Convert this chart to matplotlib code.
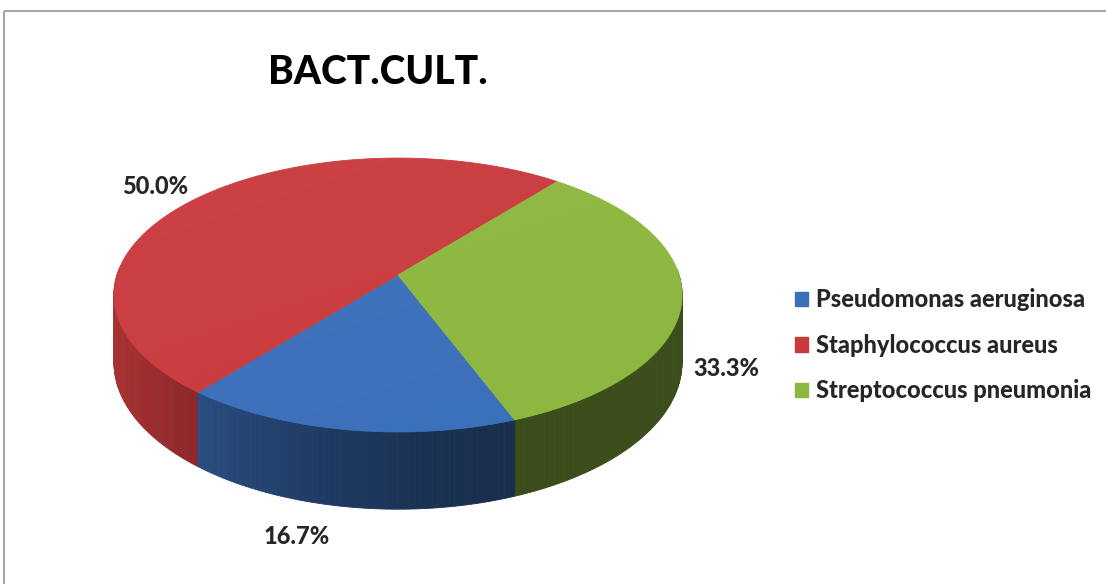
import numpy as np
import matplotlib
matplotlib.use("Agg")
import matplotlib.pyplot as plt
from matplotlib.patches import Polygon, Rectangle, Patch
from matplotlib.colors import to_rgb

# ---- data ----
categories = ["Pseudomonas aeruginosa", "Staphylococcus aureus", "Streptococcus pneumonia"]
shares = [16.7, 50.0, 33.3]
pct_labels = ["16.7%", "50.0%", "33.3%"]
title = "BACT.CULT."

# ---- style ----
top_colors = ["#3A6FBA", "#C93A3C", "#8DB73F"]
FONT = ["Lato", "DejaVu Sans"]
W, H = 1106, 584

# pie geometry (pixel space, y grows downward)
CX, CY = 398.0, 275.0       # centre of the top disc
SX, SY = 281.0, 134.0       # horizontal / vertical radius scale
P = 0.146                   # perspective strength
T = 66.0                    # wall height
START = 291.0               # first slice begins here, slices run clockwise


def proj(t_deg, r=1.0, depth=0.0):
    t = np.radians(t_deg)
    X, Y = r * np.cos(t), r * np.sin(t)
    w = 1.0 + P * Y
    return CX + SX * X / w, CY - SY * Y / w + depth / w


def wall_factor(t_deg):
    """Lighting on the cylinder wall: bright on the left, dark to the right."""
    a = t_deg % 360.0
    if a < 90:
        a += 360.0
    if a <= 190:
        s = 1.0
    elif a >= 292:
        s = 0.0
    else:
        s = 0.5 * (1 + np.cos(np.pi * (a - 190) / 102.0))
    return 0.42 + 0.42 * s


fig = plt.figure(figsize=(W / 100, H / 100), dpi=100)
ax = fig.add_axes([0, 0, 1, 1])
ax.set_xlim(0, W)
ax.set_ylim(H, 0)
ax.axis("off")

# chart-area frame
ax.add_patch(Rectangle((4, 11), W + 20, H + 20, fill=False,
                       edgecolor="#A6A6A6", lw=1.5, zorder=1))

fracs = np.array(shares) / np.sum(shares)
spans = fracs * 360.0
edges = START - np.concatenate([[0], np.cumsum(spans)])

# walls: thin quads, back to front
quads = []
for i in range(len(shares)):
    a0, a1 = edges[i], edges[i + 1]
    n = max(int(abs(a0 - a1)), 2)
    ts = np.linspace(a0, a1, n + 1)
    base = np.array(to_rgb(top_colors[i]))
    for t1, t2 in zip(ts[:-1], ts[1:]):
        tm = 0.5 * (t1 + t2)
        if np.sin(np.radians(tm)) > 0.05:
            continue
        p1, p2 = proj(t1), proj(t2)
        p3, p4 = proj(t2, depth=T), proj(t1, depth=T)
        col = np.clip(base * wall_factor(tm), 0, 1)
        quads.append((np.sin(np.radians(tm)), [p1, p2, p3, p4], col))
quads.sort(key=lambda q: -q[0])
for k, (_, pts, col) in enumerate(quads):
    ax.add_patch(Polygon(pts, closed=True, facecolor=col, edgecolor=col,
                         lw=0.6, zorder=2 + k * 1e-4))

# top faces
for i in range(len(shares)):
    a0, a1 = edges[i], edges[i + 1]
    ts = np.linspace(a0, a1, 200)
    pts = [(CX, CY)] + [proj(t) for t in ts]
    ax.add_patch(Polygon(pts, closed=True, facecolor=top_colors[i],
                         edgecolor=top_colors[i], lw=0.6, zorder=5))

# faint light over the top disc
rim = [proj(t) for t in np.linspace(0, 360, 361)]
disc = Polygon(rim, closed=True, facecolor="none", edgecolor="none")
ax.add_patch(disc)
gy, gx = np.mgrid[0:1:200j, 0:1:300j]
g = (1 - gy) * 0.6 + (1 - gx) * 0.4
shade = np.zeros((200, 300, 4))
shade[..., :3] = 1.0
shade[..., 3] = 0.05 * g
im = ax.imshow(shade, extent=(CX - 290, CX + 290, CY + 165, CY - 125),
               zorder=6, interpolation="bilinear")
im.set_clip_path(disc)
ax.set_xlim(0, W)
ax.set_ylim(H, 0)

# percentage labels
label_pos = [(297, 537), (155, 187), (726, 368)]
for (x, y), txt in zip(label_pos, pct_labels):
    ax.text(x, y, txt, family=FONT, fontweight="black", fontsize=17,
            color="#262626", ha="center", va="center", zorder=10)

# title
ax.text(378, 72, title, family=FONT, fontweight="black", fontsize=28,
        color="#000000", ha="center", va="center", zorder=10)

# legend
handles = [Patch(facecolor=c, edgecolor=c) for c in top_colors]
leg = ax.legend(handles, categories, loc="upper left",
                bbox_to_anchor=(786 / W, 1 - 279 / H), frameon=False,
                prop={"family": FONT, "weight": "black", "size": 17},
                handlelength=0.55, handleheight=0.55, handletextpad=0.3,
                labelspacing=0.95, borderaxespad=0)
for t in leg.get_texts():
    t.set_color("#262626")

fig.savefig("out.png", dpi=100, facecolor="white")
